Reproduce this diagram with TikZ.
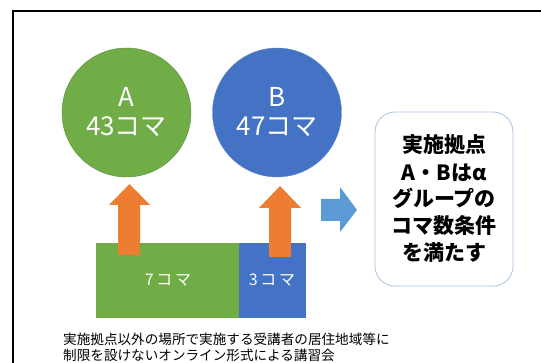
\documentclass[tikz,border=0pt]{standalone}
\usepackage{fontspec}
\newfontfamily\jp{Noto Sans CJK JP}
\definecolor{officegreen}{HTML}{70AD47}
\definecolor{officeblue}{HTML}{4472C4}
\definecolor{officeorange}{HTML}{ED7D31}
\definecolor{lightarrow}{HTML}{5B9BD5}
\definecolor{boxedge}{HTML}{A9C3E0}
\tikzset{
  site/.style={circle, minimum size=129pt, inner sep=0pt, text=white, align=center,
    font=\jp\fontsize{26}{29}\selectfont},
  part/.style={text=white, font=\jp\fontsize{16}{18}\selectfont}
}
\begin{document}
\begin{tikzpicture}[x=1pt,y=-1pt]
            \useasboundingbox (0,0) rectangle (541,363);
            % Frame
            \draw[line width=2pt] (12.5,363) -- (12.5,11.5) -- (541,11.5);

            % Sites A and B
            \node[site, fill=officegreen, draw=officegreen!80!black, line width=0.4pt] (siteA) at (126.5,112.5) {A\\43コマ};
            \node[site, fill=officeblue, draw=officeblue!80!white, line width=0.4pt] (siteB) at (277,112.5) {B\\47コマ};

            % Online courses split into two parts
            \fill[officegreen] (96,243) rectangle (239,318);
            \fill[officeblue] (239,243) rectangle (306,318);
            \node[part] (partA) at (168,280) {7\,コ\,マ};
            \node[part] (partB) at (272,280) {3\,コ\,マ};

            % Arrows up to the sites
            \fill[officeorange] (118,255) -- (118,205) -- (109,205) -- (129.5,184) -- (150,205) -- (140,205) -- (140,255) -- cycle;
            \fill[officeorange] (269,257) -- (269,208) -- (259,208) -- (280,186) -- (301,208) -- (291,208) -- (291,257) -- cycle;

            % Arrow to the result
            \fill[lightarrow] (321,199) -- (340,199) -- (340,187) -- (357,210) -- (340,232) -- (340,221) -- (321,221) -- cycle;

            % Result box
            \draw[boxedge, line width=0.8pt, fill=white, rounded corners=20pt] (375,112) rectangle (513,286);
            \node[align=center, font=\jp\bfseries\fontsize{21}{27}\selectfont] (result) at (444,199)
              {実施拠点\\A・Bはα\\グループの\\コマ数条件\\を満たす};

            % Caption
            \node[anchor=west, align=left, inner sep=0pt, font=\jp\fontsize{13.6}{15.5}\selectfont] (caption) at (63,347.5)
              {実施拠点以外の場所で実施する受講者の居住地域等に\\制限を設けないオンライン形式による講習会};
          \end{tikzpicture}
\end{document}
